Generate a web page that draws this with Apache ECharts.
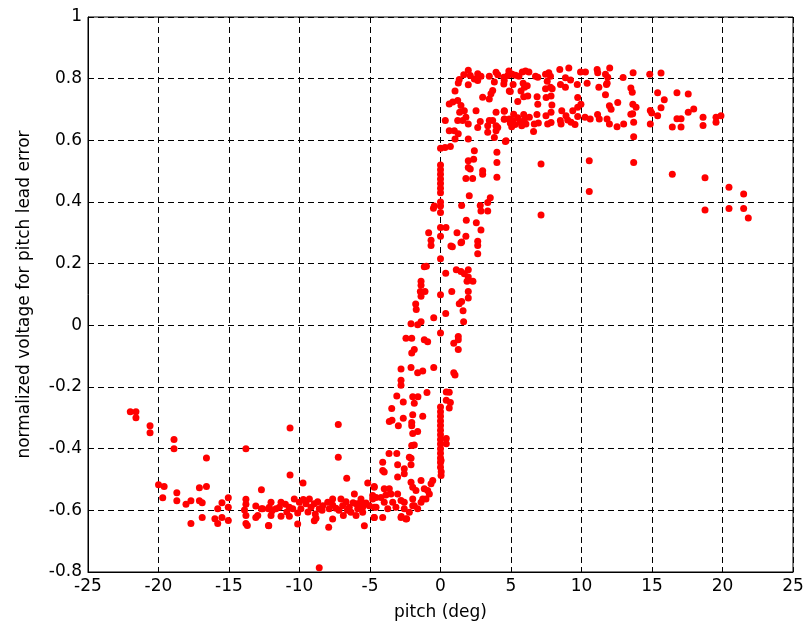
<!DOCTYPE html>
<html>
<head>
<meta charset="utf-8">
<script src="https://cdn.jsdelivr.net/npm/echarts@6/dist/echarts.min.js"></script>
<style>html,body{margin:0;padding:0;background:#fff}#c{width:807px;height:631px}</style>
</head>
<body>
<div id="c"></div>
<script>
// Axis ticks
const xTicks = [-25,-20,-15,-10,-5,0,5,10,15,20,25];
const yTicks = [-0.8,-0.6,-0.4,-0.2,0,0.2,0.4,0.6,0.8,1];
const xName = 'pitch (deg)';
const yName = 'normalized voltage for pitch lead error';

// Data groups: [pitch (deg), normalized voltage]
const leftTail = [
[-22.0,-0.28],[-21.6,-0.28],[-21.6,-0.30],[-20.6,-0.326],[-20.6,-0.348],[-18.9,-0.37],[-18.9,-0.40],[-13.8,-0.40],[-16.6,-0.43],
[-20.0,-0.517],[-19.6,-0.523],[-19.7,-0.559],[-18.7,-0.543],[-18.7,-0.569],[-18.05,-0.58],[-17.7,-0.569],[-17.7,-0.643],
[-17.1,-0.527],[-16.6,-0.523],[-17.1,-0.569],[-16.9,-0.575],[-16.9,-0.623],[-16.0,-0.627],[-15.8,-0.643],[-15.5,-0.623],
[-15.8,-0.595],[-15.5,-0.575],[-15.05,-0.559],[-15.05,-0.59],[-15.05,-0.633],[-12.7,-0.533],[-13.8,-0.564],[-13.8,-0.58],
[-13.9,-0.599],[-13.8,-0.617],[-13.8,-0.643],[-13.7,-0.649],[-13.1,-0.586],[-13.1,-0.623],[-12.7,-0.595],[-12.2,-0.595],[-12.2,-0.649]
];
const lowerBand = [
[-10.67,-0.333],[-7.25,-0.322],[-7.25,-0.428],[-10.67,-0.485],[-6.65,-0.496],[-9.75,-0.511],[-5.16,-0.511],[-4.7,-0.523],
[-8.95,-0.634],[-8.6,-0.786],
[-12.02,-0.574],[-12.14,-0.59],[-11.95,-0.601],[-11.67,-0.595],[-11.31,-0.574],[-11.43,-0.59],[-12.02,-0.617],[-11.31,-0.619],
[-12.61,-0.595],[-12.96,-0.617],[-10.72,-0.59],[-10.37,-0.563],[-10.48,-0.595],[-10.72,-0.619],[-10.01,-0.574],[-10.13,-0.609],
[-9.73,-0.565],[-9.54,-0.579],[-9.3,-0.563],[-9.18,-0.59],[-8.95,-0.579],[-8.71,-0.572],[-8.6,-0.595],[-8.88,-0.612],
[-8.35,-0.585],[-8.0,-0.574],[-7.89,-0.595],[-7.65,-0.563],[-7.65,-0.583],[-7.41,-0.593],[-7.06,-0.563],[-6.94,-0.585],
[-6.89,-0.617],[-6.7,-0.572],[-6.47,-0.59],[-6.35,-0.606],[-6.11,-0.547],[-5.99,-0.579],[-5.87,-0.595],[-5.99,-0.617],
[-5.64,-0.563],[-5.52,-0.59],[-5.28,-0.576],[-5.52,-0.606],[-5.05,-0.585],[-4.81,-0.563],[-4.7,-0.59],[-4.7,-0.623],
[-12.18,-0.65],[-10.13,-0.644],[-7.93,-0.655],[-5.4,-0.65],[-7.65,-0.628],[-8.83,-0.626],[-4.81,-0.552],
[-11.0,-0.58],[-10.9,-0.605],[-9.9,-0.595],[-9.4,-0.605],[-8.4,-0.6],[-7.2,-0.6],[-6.2,-0.575],[-5.7,-0.575],[-6.6,-0.6]
];
const risingLeft = [
[-3.1,-0.229],[-1.97,-0.232],[-1.6,-0.232],[-0.96,-0.218],[-2.64,-0.249],[-1.86,-0.253],[-3.46,-0.27],[-3.63,-0.312],
[-3.44,-0.308],[-2.99,-0.326],[-2.64,-0.301],[-1.97,-0.29],[-1.26,-0.295],[-2.04,-0.315],[-2.04,-0.326],[-1.97,-0.351],
[-1.62,-0.344],[-1.86,-0.388],[-2.04,-0.39],[-3.65,-0.416],[-3.1,-0.416],[-2.21,-0.428],[-0.67,-0.514],[-0.91,-0.536],
[-2.4,-0.627],[-2.78,-0.62],
[-4.1,-0.444],[-4.1,-0.471],[-3.99,-0.476],[-3.04,-0.452],[-2.57,-0.465],[-2.09,-0.431],[-2.09,-0.452],[-2.57,-0.481],
[-3.04,-0.492],[-1.38,-0.503],[-0.55,-0.503],[-4.7,-0.525],[-3.99,-0.53],[-3.63,-0.53],[-4.57,-0.558],[-4.22,-0.558],
[-3.87,-0.55],[-3.51,-0.547],[-3.99,-0.574],[-3.39,-0.574],[-2.8,-0.568],[-2.57,-0.574],[-2.09,-0.509],[-1.97,-0.525],
[-1.74,-0.536],[-1.15,-0.53],[-1.26,-0.563],[-1.38,-0.574],[-1.03,-0.563],[-0.79,-0.547],[-1.97,-0.563],[-1.86,-0.585],
[-2.21,-0.606],[-1.97,-0.585],[-4.7,-0.623],[-4.1,-0.623],[-2.8,-0.623],[-2.45,-0.628],[-4.57,-0.59],[-3.74,-0.595],
[-3.16,-0.59],[-2.57,-0.595],[-1.62,-0.595],[-3.04,-0.547],
[-0.67,0.276],[-0.67,0.259],[-0.84,0.3],[-1.15,0.19],[-1.0,0.192],[-1.38,0.143],[-1.38,0.13],[-1.1,0.11],[-1.43,0.11],
[-1.38,0.094],[-0.48,0.025],[-1.76,0.069],[-1.72,0.051],[-1.38,0.012],[-1.62,0.002],[-2.09,0.005],[-2.45,-0.042],
[-2.04,-0.042],[-1.15,-0.047],[-0.91,-0.053],[-1.86,-0.078],[-2.04,-0.09],[-2.8,-0.142],[-2.09,-0.137],[-1.62,-0.154],
[-1.26,-0.148],[-0.48,-0.137],[-2.8,-0.178],[-2.8,-0.194],[-0.44,0.387],[-0.5,0.38]
];
const zeroColumn = [
[0,-0.265],[0,-0.28],[0,-0.295],[0,-0.31],[0,-0.325],[0,-0.34],[0,-0.355],[0,-0.37],[0,-0.385],[0,-0.4],[0,-0.415],
[0,-0.43],[0.04,-0.438],[0,-0.445],[0,-0.46],[0.05,-0.475],[0.04,-0.487],
[0,-0.025],[0,0.099],[0,0.216],[0,0.289],[0,0.317],[0,0.366],[0,0.387],[0,0.40],[0,0.43],[0,0.445],[0,0.46],[0,0.475],
[0,0.49],[0,0.505],[0,0.52],[0,0.574]
];
const risingRight = [
[0.41,-0.216],[0.41,-0.243],[0.41,-0.367],[0.41,-0.384],
[0.84,0.255],[1.5,0.27],[2.64,0.273],[2.64,0.259],[2.64,0.232],[0.37,0.169],[1.12,0.18],[1.45,0.175],[1.69,0.167],
[1.97,0.18],[1.97,0.157],[2.3,0.143],[1.88,0.143],[0.8,0.11],[1.97,0.11],[1.97,0.089],[1.5,0.077],[1.33,0.07],[1.6,0.047],
[0.37,0.038],[1.64,0.012],[1.26,-0.036],[1.26,-0.047],[0.94,-0.058],[1.26,-0.078],[0.94,-0.154],[1.03,-0.161],
[0.62,-0.217],[0.7,-0.25],[0.62,-0.268],
[2.4,0.566],[1.97,0.534],[2.35,0.539],[1.97,0.512],[2.11,0.507],[2.99,0.501],[2.99,0.49],[4.0,0.528],[4.0,0.561],
[4.0,0.48],[1.8,0.476],[2.28,0.476],[1.5,0.389],[2.04,0.42],[2.82,0.389],[2.87,0.371],[3.35,0.398],[3.53,0.414],
[3.35,0.371],[1.83,0.341],[2.54,0.333],[2.87,0.309],[1.45,0.268],[1.8,0.289],[1.17,0.3],[0.39,0.317],[0.74,0.257],
[0.32,0.577],[0.7,0.58]
];
const upperPlateau = [
[1.97,0.827],[1.65,0.813],[2.11,0.81],[2.64,0.816],[2.87,0.808],[3.46,0.808],[3.94,0.821],[4.06,0.813],[1.33,0.797],
[1.26,0.786],[1.97,0.78],[2.4,0.799],[2.64,0.794],[3.82,0.789],[4.77,0.81],[4.52,0.794],[1.03,0.76],[2.99,0.74],
[3.46,0.734],[3.58,0.751],[3.7,0.762],[4.88,0.76],[0.87,0.724],[0.62,0.718],[1.22,0.729],[1.45,0.713],[1.36,0.691],
[1.69,0.696],[1.8,0.675],[1.97,0.653],[1.57,0.664],[1.22,0.664],[2.52,0.696],[2.82,0.661],[3.46,0.664],[3.94,0.691],
[4.53,0.696],[3.7,0.664],[4.06,0.642],[4.53,0.669],[3.35,0.647],[2.64,0.642],[0.34,0.664],[0.62,0.631],[0.98,0.631],
[1.26,0.621],[1.03,0.604],[1.97,0.604],[3.35,0.626],[3.94,0.631],[3.82,0.609],[4.65,0.599],[4.88,0.669],[3.94,0.647],
[4.49,0.805],[4.85,0.825],[5.09,0.814],[5.32,0.811],[5.56,0.808],[5.8,0.822],[6.03,0.825],[6.27,0.822],[6.74,0.808],
[7.45,0.814],[7.68,0.819],[7.8,0.808],[8.46,0.83],[9.1,0.835],[9.93,0.822],[10.28,0.822],[11.11,0.83],[11.15,0.819],
[11.7,0.814],[12.0,0.835],[12.95,0.804],[13.66,0.819],[14.84,0.814],[6.9,0.805],[11.86,0.805],
[4.49,0.783],[5.15,0.781],[5.86,0.785],[6.15,0.777],[5.96,0.772],[7.57,0.792],[7.8,0.772],[7.45,0.767],[7.92,0.767],
[8.51,0.781],[8.86,0.803],[9.22,0.796],[8.86,0.772],[9.7,0.781],[10.4,0.785],[11.23,0.772],[11.77,0.781],[11.82,0.785],
[11.7,0.748],[13.5,0.77],[13.6,0.756],
[4.95,0.758],[5.71,0.76],[5.9,0.741],[5.48,0.726],[6.19,0.744],[6.85,0.741],[7.49,0.739],[7.84,0.744],[6.9,0.717],
[7.9,0.715],[9.73,0.739],[9.73,0.707],[9.96,0.717],[8.6,0.696],[9.38,0.696],[11.98,0.712],[12.1,0.701],[12.57,0.723],
[13.64,0.717],[13.87,0.707],[13.5,0.685],
[4.52,0.694],[4.52,0.668],[5.19,0.685],[5.12,0.664],[5.48,0.673],[4.95,0.656],[5.05,0.644],[5.29,0.651],[5.66,0.659],
[5.9,0.684],[5.94,0.666],[5.76,0.647],[6.06,0.653],[6.3,0.675],[6.65,0.653],[6.6,0.629],[6.84,0.684],[6.94,0.656],
[7.48,0.68],[7.6,0.653],[7.84,0.691],[7.84,0.658],[8.5,0.664],[8.55,0.653],[8.9,0.68],[9.02,0.666],[9.26,0.659],
[9.54,0.651],[9.73,0.677],[10.25,0.675],[10.62,0.669],[11.14,0.684],[11.26,0.669],[11.81,0.669],[11.98,0.653],
[12.52,0.644],[12.99,0.653],[13.7,0.659],[13.63,0.686],[14.88,0.697],[14.88,0.653],[13.7,0.612],[4.6,0.596]
];
const rightTail = [
[7.13,0.523],[10.55,0.534],[13.7,0.528],[10.55,0.434],[7.13,0.358],
[15.64,0.818],[15.4,0.754],[16.77,0.754],[17.57,0.75],[15.87,0.732],[15.64,0.706],[17.96,0.702],[17.57,0.691],[15.4,0.68],
[16.77,0.67],[17.06,0.67],[18.62,0.675],[19.54,0.675],[19.89,0.68],[18.62,0.648],[19.54,0.659],[16.44,0.643],[17.06,0.643],
[16.44,0.49],[18.76,0.479],[20.46,0.448],[21.5,0.426],[18.76,0.374],[20.46,0.379],[21.5,0.379],[21.83,0.348],[14.98,0.689]
];

const allPoints = [].concat(leftTail, lowerBand, risingLeft, zeroColumn, risingRight, upperPlateau, rightTail);

const FONT = 'DejaVu Sans';
const chart = echarts.init(document.getElementById('c'), null, {renderer: 'canvas'});
chart.setOption({
  animation: false,
  backgroundColor: '#ffffff',
  grid: {left: 88, right: 14, top: 17, bottom: 59, show: true, borderColor: '#000', borderWidth: 1, backgroundColor: 'transparent'},
  xAxis: {
    type: 'value', min: xTicks[0], max: xTicks[xTicks.length-1], interval: 5,
    name: xName, nameLocation: 'middle', nameGap: 32,
    nameTextStyle: {fontFamily: FONT, fontSize: 17, color: '#000'},
    axisLine: {show: true, onZero: false, lineStyle: {color: '#000', width: 1}},
    axisTick: {show: true, inside: true, length: 5, lineStyle: {color: '#000'}},
    axisLabel: {fontFamily: FONT, fontSize: 17, color: '#000', margin: 6},
    splitLine: {show: true, lineStyle: {color: '#000', type: [6,4], width: 1}}
  },
  yAxis: {
    type: 'value', min: yTicks[0], max: yTicks[yTicks.length-1], interval: 0.2,
    name: yName, nameLocation: 'middle', nameGap: 55, nameRotate: 90,
    nameTextStyle: {fontFamily: FONT, fontSize: 17, color: '#000'},
    axisLine: {show: true, onZero: false, lineStyle: {color: '#000', width: 1}},
    axisTick: {show: true, inside: true, length: 5, lineStyle: {color: '#000'}},
    axisLabel: {fontFamily: FONT, fontSize: 17, color: '#000', margin: 6,
      formatter: v => String(Math.round(v*10)/10)},
    splitLine: {show: true, lineStyle: {color: '#000', type: [6,4], width: 1}}
  },
  series: [{
    type: 'scatter', data: allPoints, symbol: 'circle', symbolSize: 7,
    itemStyle: {color: '#ff0000', opacity: 1}, silent: true
  }]
});
</script>
</body>
</html>
